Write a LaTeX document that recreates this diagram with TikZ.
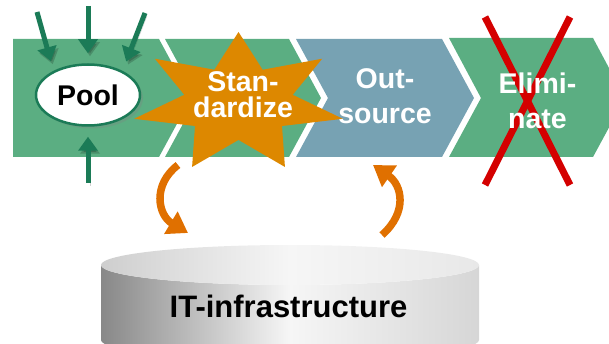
\documentclass[tikz,border=0pt]{standalone}
\usepackage{fontspec}
\setmainfont{Liberation Sans}
\usetikzlibrary{arrows.meta,shapes.geometric,shadows}
\definecolor{stagegreen}{RGB}{91,174,130}
\definecolor{stageblue}{RGB}{119,162,179}
\definecolor{poolgreen}{RGB}{27,123,87}
\definecolor{starorange}{RGB}{221,136,0}
\definecolor{looporange}{RGB}{224,112,0}
\definecolor{crossred}{RGB}{212,0,0}
\definecolor{cyldark}{RGB}{136,136,136}
\definecolor{cyllight}{RGB}{246,246,246}
\definecolor{cylright}{RGB}{214,214,214}
\definecolor{topleft}{RGB}{206,206,206}
\definecolor{topright}{RGB}{232,232,232}

\begin{document}
\begin{tikzpicture}
  [x=1pt,y=-1pt,
   stage/.style={text=white,align=center,inner sep=0,
                 font=\bfseries\fontsize{28.5}{35}\selectfont},
   feed/.style={draw=poolgreen,line width=5pt,shorten >=10pt,
                -{Triangle[width=19pt,length=14pt]},
                preaction={draw=black,opacity=0.18,
                           transform canvas={shift={(2pt,-3pt)}}}},
   backarrow/.style={draw=looporange,line width=7.5pt,
                     -{Triangle[width=25pt,length=20pt]}},
   strike/.style={draw=crossred,line width=7pt}]
  \useasboundingbox (0,0) rectangle (609,344);
  \clip (0,0) rectangle (609,344);
  % stages
  \fill[stagegreen] (13,39) -- (159,39) -- (191,98) -- (159,157) -- (13,157) -- cycle;
  \fill[stagegreen] (165,39) -- (289,39) -- (321,98) -- (289,157) -- (165,157) -- (197,98) -- cycle;
  \fill[stageblue] (296,39) -- (442,39) -- (474,98) -- (442,157) -- (296,157) -- (328,98) -- cycle;
  \fill[stagegreen] (449,38) -- (593,38) -- (625,98) -- (593,157) -- (449,157) -- (481,98) -- cycle;
  % star
  \fill[starorange] plot[samples at={0,...,13}]
    ({238.5+107*(1-0.48*mod(\x,2))*cos(90+\x*360/14)},
     {103-71*(1-0.48*mod(\x,2))*sin(90+\x*360/14)}) -- cycle;
  \draw[strike] (485,17) -- (570,185);
  \draw[strike] (570,17) -- (485,185);
  \node[ellipse,draw=poolgreen,line width=2.5pt,fill=white,inner sep=0,
        minimum width=104pt,minimum height=61pt,
        font=\bfseries\fontsize{28.5}{35}\selectfont,
        drop shadow={opacity=0.3,shadow xshift=3pt,shadow yshift=-3pt}] (pool) at (88,95) {Pool};
  \node[stage] (std) at (243,95) {Stan-\\[-9pt]dardize};
  \node[stage] (out) at (385,96) {Out-\\source};
  \node[stage] (elim) at (537.5,100.5) {Elimi-\\nate};
  % inputs of the pool
  \coordinate (in1) at (37,12);
  \coordinate (in2) at (88,6);
  \coordinate (in3) at (145,13);
  \coordinate (in4) at (88,183);
  \draw[feed] (in1) -- (pool.145);
  \draw[feed] (in2) -- (pool.north);
  \draw[feed] (in3) -- (pool.35);
  \draw[feed] (in4) -- (pool.south);
  % infrastructure
  \shade[left color=cyldark,right color=cylright,middle color=cyllight]
    (101,265) -- (101,340) arc[start angle=180,end angle=0,x radius=189,y radius=20]
    -- (479,265) arc[start angle=0,end angle=180,x radius=189,y radius=20] -- cycle;
  \shade[left color=topleft,right color=topright,middle color=cyllight]
    (290,265) ellipse[x radius=189,y radius=20];
  \node[font=\bfseries\fontsize{31}{37}\selectfont] (infra) at (288.5,306) {IT-infrastructure};
  \coordinate (stdfoot) at (178,165);
  \coordinate (infraleft) at (188,233);
  \coordinate (infraright) at (382,235);
  \coordinate (outfoot) at (373,165);
  \draw[backarrow] (stdfoot) .. controls (152,185) and (158,215) .. (infraleft);
  \draw[backarrow] (infraright) .. controls (408,212) and (402,185) .. (outfoot);
\end{tikzpicture}
\end{document}
